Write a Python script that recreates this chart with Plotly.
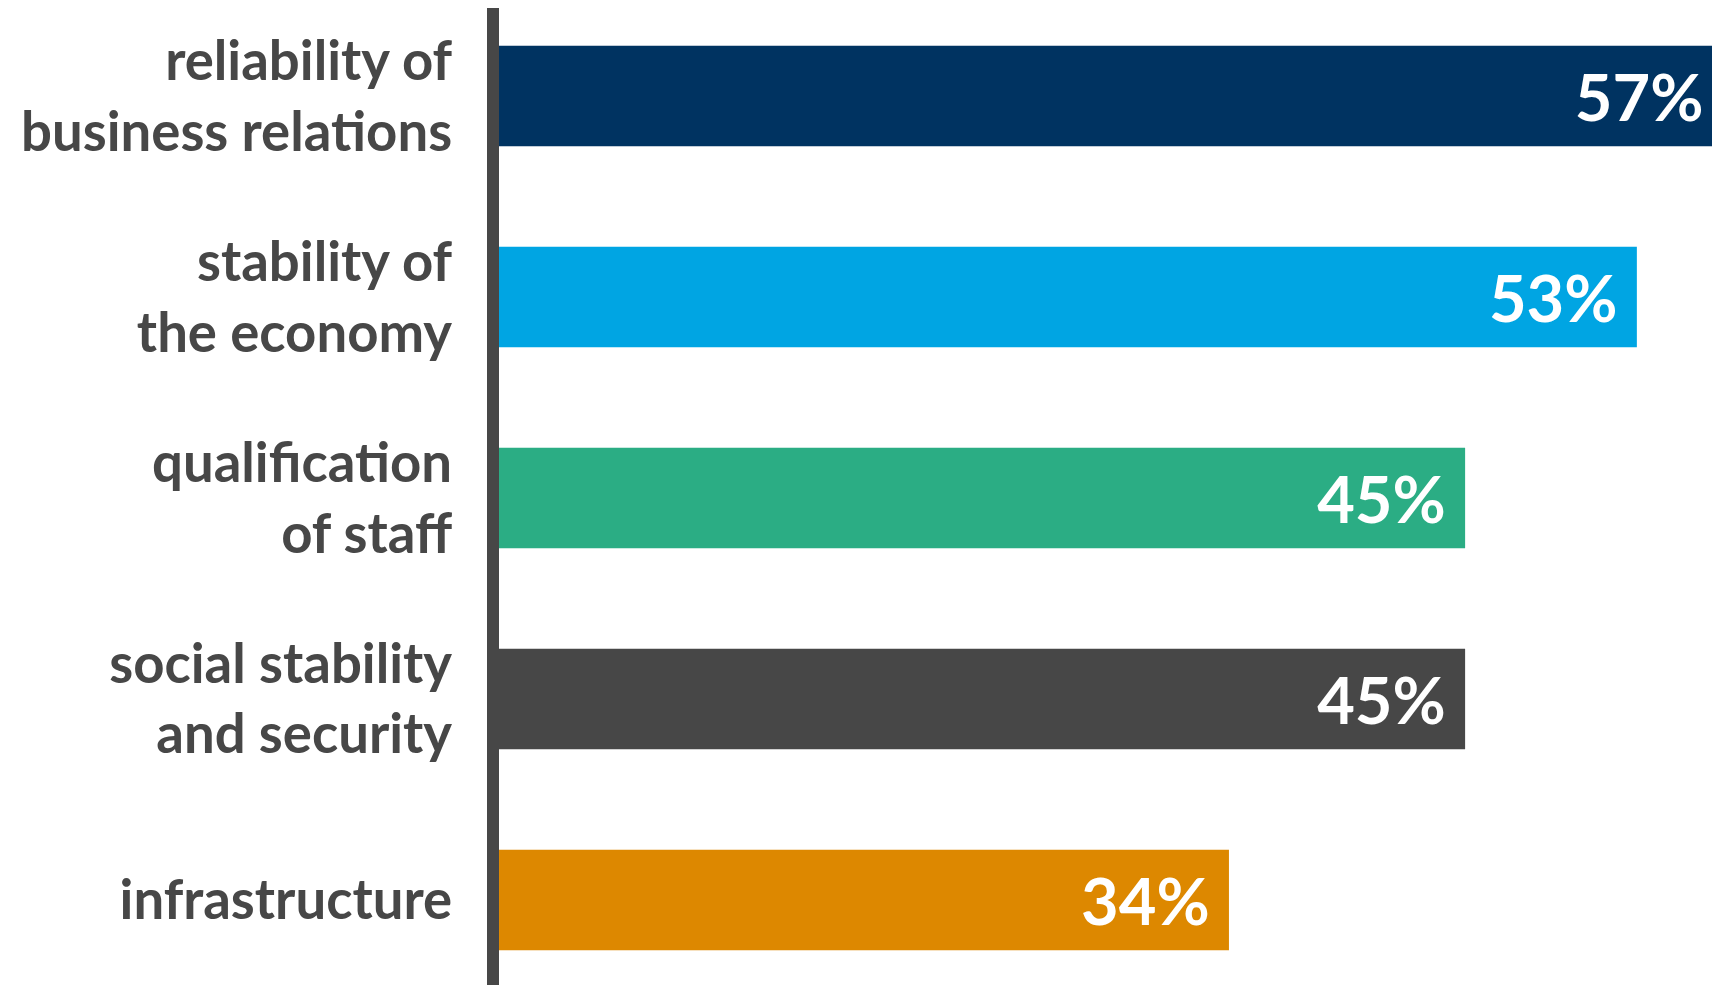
import plotly.graph_objects as go

categories = [
    "reliability of<br>business relations",
    "stability of<br>the economy",
    "qualification<br>of staff",
    "social stability<br>and security",
    "infrastructure",
]
values = [57, 53, 45, 45, 34]
colors = ["#003361", "#00A5E3", "#2BAD84", "#474747", "#DD8800"]

TEXT_GRAY = "#474747"
FONT = "Lato"

fig = go.Figure(
    go.Bar(
        x=values,
        y=categories,
        orientation="h",
        marker=dict(color=colors, line=dict(width=0)),
        texttemplate="<b>%{x}%</b>\u2005",
        textposition="inside",
        insidetextanchor="end",
        textfont=dict(family=FONT, size=65, color="white"),
        hoverinfo="skip",
    )
)

fig.update_layout(
    width=1712,
    height=985,
    margin=dict(l=499, r=0, t=8, b=0, pad=0),
    paper_bgcolor="white",
    plot_bgcolor="white",
    bargap=0.5,
    showlegend=False,
    font=dict(family=FONT, color=TEXT_GRAY),
)
fig.update_xaxes(
    range=[0, 56.5],
    visible=False,
    showgrid=False,
    zeroline=False,
)
fig.update_yaxes(
    type="category",
    range=[4.423, -0.438],
    showgrid=False,
    zeroline=False,
    showline=True,
    linecolor=TEXT_GRAY,
    linewidth=12,
    ticks="",
    ticklabelstandoff=24,
    tickfont=dict(family=FONT, size=54.5, color=TEXT_GRAY, weight="bold"),
)

fig.write_html("out.html")
